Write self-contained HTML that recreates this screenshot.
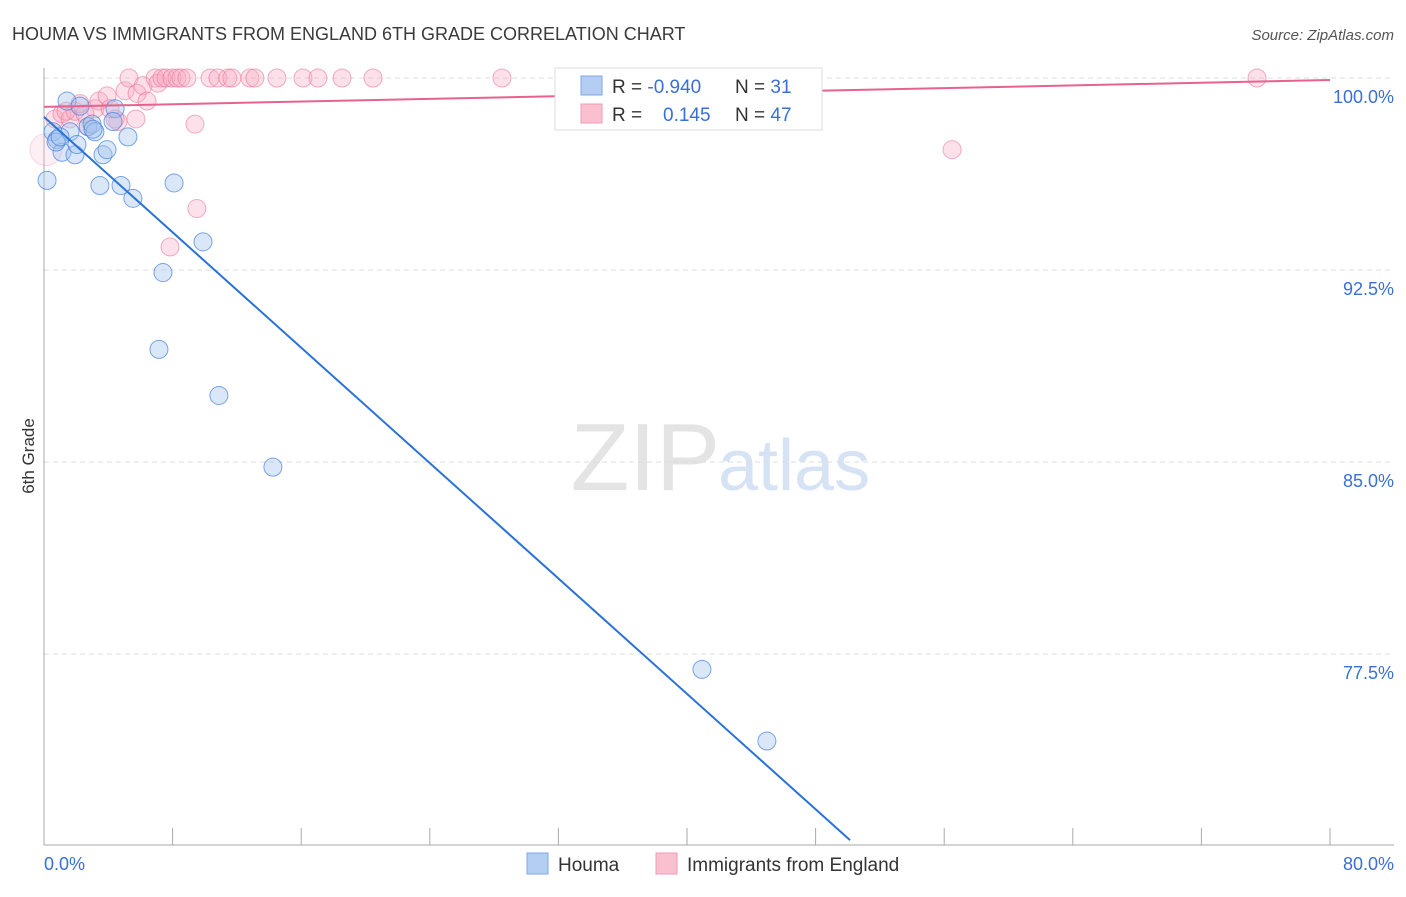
<!DOCTYPE html>
<html><head><meta charset="utf-8"><style>
body{margin:0;background:#fff;font-family:"Liberation Sans",sans-serif;}
svg text{font-family:"Liberation Sans",sans-serif;}
</style></head><body>
<svg width="1406" height="892">
<text x="12" y="40" font-size="18" fill="#3a3a3a">HOUMA VS IMMIGRANTS FROM ENGLAND 6TH GRADE CORRELATION CHART</text>
<text x="1394" y="40" font-size="15" fill="#555" font-style="italic" text-anchor="end">Source: ZipAtlas.com</text>
<text x="720" y="490" font-size="96" fill="#e4e4e4" text-anchor="end" font-family="Liberation Serif">ZIP</text>
<text x="718" y="490" font-size="72" fill="#d6e3f5">atlas</text>
<g id="grid"></g>
<g id="axes"></g>
<g id="pts"></g>
<g id="lines"></g>
<text x="34" y="456" font-size="17" fill="#333" transform="rotate(-90 34 456)" text-anchor="middle">6th Grade</text>
<text x="44" y="870" font-size="18" fill="#3a6fd8">0.0%</text>
<text x="1394" y="870" font-size="18" fill="#3a6fd8" text-anchor="end">80.0%</text>
<g>
<rect x="555" y="68" width="267" height="62" fill="#fff" stroke="#ddd"/>
<rect x="581" y="76" width="21" height="19" fill="#b4cdf3" stroke="#7ea6e8"/>
<rect x="581" y="104" width="21" height="19" fill="#fac0d0" stroke="#f09ab3"/>
<text x="612" y="93" font-size="19" fill="#333">R = <tspan fill="#3a6fd8">-0.940</tspan></text>
<text x="735" y="93" font-size="19" fill="#333">N = <tspan fill="#3a6fd8"> 31</tspan></text>
<text x="612" y="121" font-size="19" fill="#333">R = <tspan fill="#3a6fd8" x="663">0.145</tspan></text>
<text x="735" y="121" font-size="19" fill="#333">N = <tspan fill="#3a6fd8">47</tspan></text>
</g>
<g>
<rect x="527" y="853" width="21" height="21" fill="#b4cdf3" stroke="#7ea6e8"/>
<text x="558" y="871" font-size="19" fill="#333">Houma</text>
<rect x="656" y="853" width="21" height="21" fill="#fac0d0" stroke="#f09ab3"/>
<text x="687" y="871" font-size="19" fill="#333">Immigrants from England</text>
</g>
</svg>
<script>
const yTicks=[100,92.5,85,77.5];
const yTickLabels=["100.0%","92.5%","85.0%","77.5%"];
const xTicks=[0,8,16,24,32,40,48,56,64,72,80];
const houmaX=[0.19,0.56,0.81,1.12,1.43,1.62,1.93,2.05,2.24,2.74,2.99,3.17,3.48,3.67,3.92,4.42,4.79,5.22,5.53,7.15,7.40,8.09,9.89,10.88,14.24,40.93,44.97,4.29,0.75,1.00,3.05];
const houmaY=[96.0,97.9,97.6,97.1,99.1,97.9,97.0,97.4,98.9,98.1,98.2,97.9,95.8,97.0,97.2,98.8,95.8,97.7,95.3,89.4,92.4,95.9,93.6,87.6,84.8,76.9,74.1,98.3,97.5,97.7,98.0];
const engX=[0.12,0.68,1.12,1.62,1.93,2.24,2.74,3.17,3.42,3.92,4.60,5.04,5.29,5.72,5.79,6.16,6.41,6.91,7.09,7.34,7.59,7.96,8.27,8.52,8.89,9.39,9.51,7.84,10.33,10.82,11.44,11.69,12.81,13.12,14.49,16.11,17.04,18.54,20.47,28.49,32.97,56.49,75.46,4.11,4.42,1.37,2.55];
const engY=[97.2,98.4,98.6,98.4,98.7,99.0,98.1,98.8,99.1,99.3,98.3,99.5,100,98.4,99.4,99.7,99.1,100,99.8,100,100,100,100,100,100,98.2,94.9,93.4,100,100,100,100,100,100,100,100,100,100,100,100,100,97.2,100,98.8,98.4,98.7,98.6];
const houmaLine=[98.48,70.23], houmaLineX=[0,50.14];
const engLine=[98.87,99.92], engLineX=[0,80];
const X=v=>44+v/80*1286, Y=v=>78+(100-v)*25.6;
const NS="http://www.w3.org/2000/svg";
function mk(p,t,a){const e=document.createElementNS(NS,t);for(const k in a)e.setAttribute(k,a[k]);p.appendChild(e);return e;}
const grid=document.getElementById('grid'),axes=document.getElementById('axes'),pts=document.getElementById('pts'),lines=document.getElementById('lines');
yTicks.forEach((t,i)=>{
 const g=mk(grid,'line',{x1:44,x2:1394,y1:Y(t),y2:Y(t),stroke:'#ddd','stroke-dasharray':'5,4'});
 
 
 const l=mk(grid,'text',{x:1394,y:Y(t)+25,'font-size':18,fill:'#3a6fd8','text-anchor':'end'});
 l.textContent=yTickLabels[i];
 
 
});
const ya=mk(axes,'line',{x1:44,x2:44,y1:68,y2:845,stroke:'#aaa'});


const xa=mk(axes,'line',{x1:44,x2:1394,y1:845,y2:845,stroke:'#aaa'});


xTicks.forEach(t=>{
 const k=mk(axes,'line',{x1:X(t),x2:X(t),y1:828,y2:845,stroke:'#aaa'});
 
 
});
engX.forEach((x,i)=>{
 const big=i==0;
 const c=mk(pts,'circle',{cx:X(x),cy:Y(engY[i]),r:big?16:9,fill:big?'rgba(248,180,200,0.22)':'rgba(248,170,195,0.35)',stroke:big?'rgba(235,140,170,0.3)':'rgba(235,120,155,0.6)','stroke-width':1});
 
 
});
houmaX.forEach((x,i)=>{
 const c=mk(pts,'circle',{cx:X(x),cy:Y(houmaY[i]),r:9,fill:'rgba(160,195,240,0.4)',stroke:'rgba(70,130,220,0.7)','stroke-width':1});
 
 
});
const hl=mk(lines,'line',{x1:X(houmaLineX[0]),y1:Y(houmaLine[0]),x2:X(houmaLineX[1]),y2:Y(houmaLine[1]),stroke:'#2a72d8','stroke-width':2});


const el=mk(lines,'line',{x1:X(engLineX[0]),y1:Y(engLine[0]),x2:X(engLineX[1]),y2:Y(engLine[1]),stroke:'#e8628f','stroke-width':2});


</script>
</body></html>
